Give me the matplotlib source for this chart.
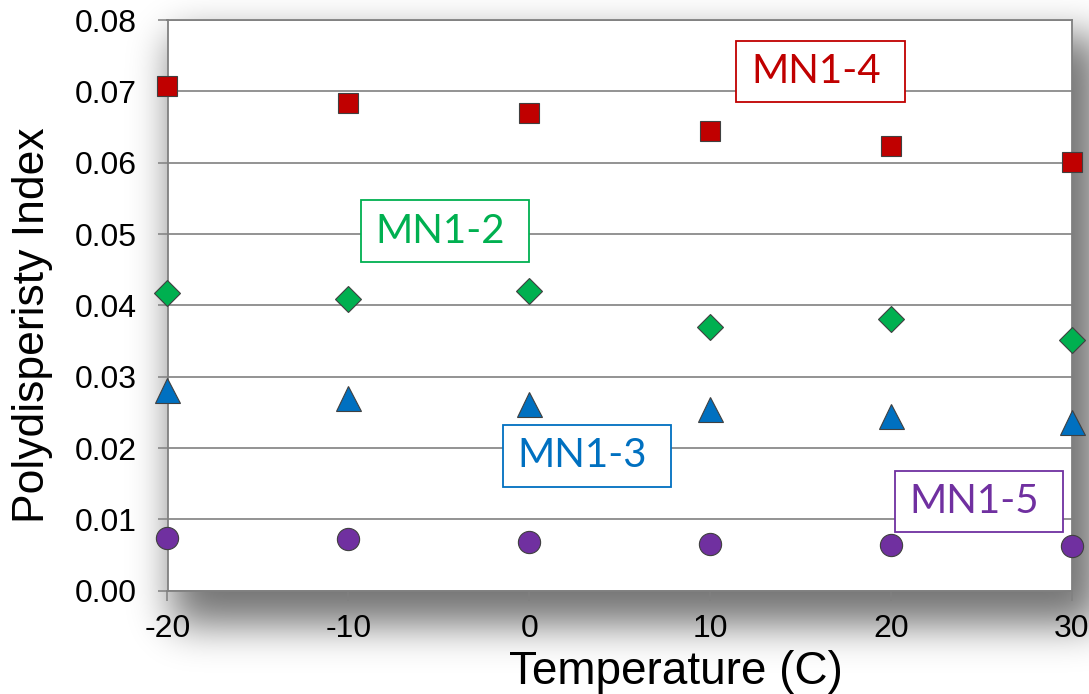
import numpy as np
import matplotlib
matplotlib.use('Agg')
import matplotlib.pyplot as plt
from matplotlib.patches import Rectangle

# ---------------- data ----------------
temperature = [-20, -10, 0, 10, 20, 30]
mn1_4 = [0.0708, 0.0684, 0.0670, 0.0644, 0.0624, 0.0601]
mn1_2 = [0.0417, 0.0409, 0.0420, 0.0370, 0.0381, 0.0351]
mn1_3 = [0.0281, 0.0270, 0.0262, 0.0255, 0.0245, 0.0237]
mn1_5 = [0.0074, 0.0072, 0.0068, 0.0066, 0.0064, 0.0063]
series_names = ['MN1-4', 'MN1-2', 'MN1-3', 'MN1-5']
x_ticks = [-20, -10, 0, 10, 20, 30]
y_ticks = [0.00, 0.01, 0.02, 0.03, 0.04, 0.05, 0.06, 0.07, 0.08]
x_label = 'Temperature (C)'
y_label = 'Polydisperisty Index'

# ---------------- styling ----------------
colors = ['#C00000', '#00B050', '#0070C0', '#7030A0']
markers = ['s', 'D', '^', 'o']
msizes = [15, 13.5, 18, 16]
label_pos = [(16.1, 0.0728), (-4.67, 0.0504), (3.18, 0.0189), (24.85, 0.0125)]

W, H = 1089, 694
fig = plt.figure(figsize=(W / 100, H / 100), dpi=100)
fig.patch.set_facecolor('white')

# soft drop shadow behind the plot area
def blur1d(n, a, b, sigma):
    pad = 4 * sigma
    ind = np.zeros(n + 2 * pad)
    ind[a + pad:b + pad] = 1.0
    k = np.exp(-0.5 * (np.arange(-3 * sigma, 3 * sigma + 1) / sigma) ** 2)
    k /= k.sum()
    out = np.convolve(ind, k, mode='same')
    return out[pad:pad + n]

sx = blur1d(W, 172, 1100, 20)
sy = blur1d(H, 36, 625, 20)
alpha = 0.55 * np.outer(sy, sx)
rgba = np.zeros((H, W, 4))
rgba[..., 3] = alpha
fig.figimage(rgba, 0, 0, origin='upper', zorder=-5)

ax = fig.add_axes([167.5 / W, 1 - 590.7 / H, (1072 - 167.5) / W, (590.7 - 20) / H])
ax.set_facecolor('white')
ax.set_zorder(1)

series = [mn1_4, mn1_2, mn1_3, mn1_5]
for vals, c, m, ms in zip(series, colors, markers, msizes):
    ax.plot(temperature, vals, linestyle='none', marker=m, markersize=ms,
            markerfacecolor=c, markeredgecolor='#404040', markeredgewidth=0.8,
            clip_on=False, zorder=5)

ax.set_xlim(-20, 30)
ax.set_ylim(0, 0.08)
ax.set_xticks(x_ticks)
ax.set_yticks(y_ticks)
ax.set_xticklabels([str(t) for t in x_ticks])
ax.set_yticklabels(['%.2f' % t for t in y_ticks])

ax.yaxis.grid(True, color='#8a8a8a', linewidth=1.3, zorder=0)
ax.xaxis.grid(False)
ax.set_axisbelow(True)
for s in ax.spines.values():
    s.set_color('#808080')
    s.set_linewidth(1.3)

ax.tick_params(axis='both', direction='out', length=7, width=1.1, color='#808080',
               labelcolor='black')
ax.tick_params(axis='y', pad=15)
ax.tick_params(axis='x', pad=10)
for lab in ax.get_xticklabels() + ax.get_yticklabels():
    lab.set_fontfamily(['Liberation Sans', 'DejaVu Sans'])
    lab.set_fontsize(23)

# axis titles placed to match the reference
fig.text(676 / W, 1 - 684 / H, x_label, fontsize=33,
         family=['Liberation Sans', 'DejaVu Sans'], ha='center', va='baseline')
fig.text(33 / W, 1 - 325 / H, y_label, fontsize=32, rotation=90,
         family=['Liberation Sans', 'DejaVu Sans'], ha='center', va='center')

# boxed series labels
bw, bh = 9.3, 0.0086
for name, c, (cx, cy) in zip(series_names, colors, label_pos):
    ax.add_patch(Rectangle((cx - bw / 2, cy - bh / 2), bw, bh, facecolor='white',
                           edgecolor=c, linewidth=1.3, zorder=6, clip_on=False))
    ax.text(cx - 0.25, cy, name, color=c, fontsize=29, family=['Lato', 'DejaVu Sans'],
            ha='center', va='center', zorder=7)

fig.savefig('out.png', dpi=100, facecolor='white')
